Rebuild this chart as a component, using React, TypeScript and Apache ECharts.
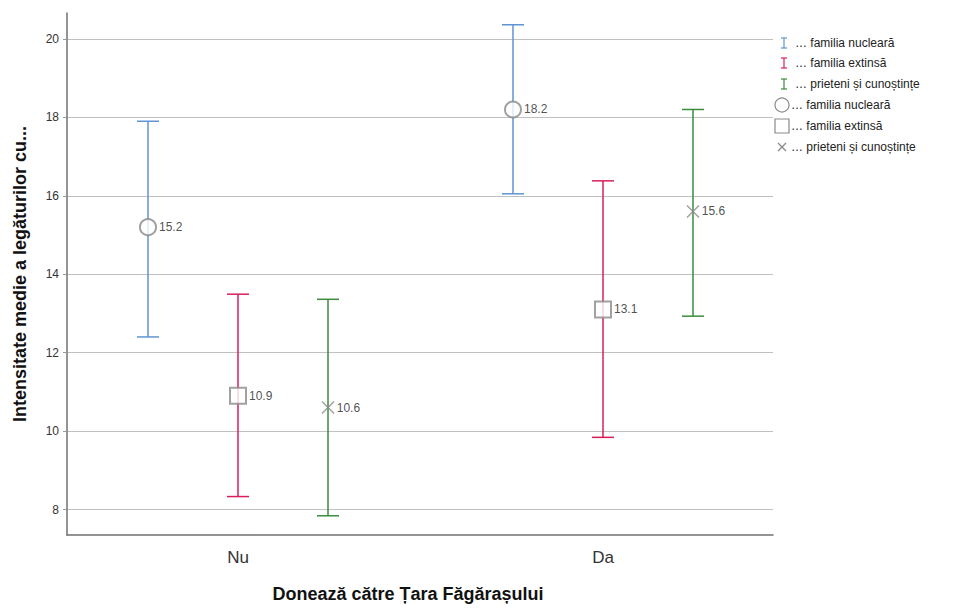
import React, { useEffect, useRef } from "react";
import * as echarts from "echarts";

const categories = ["Nu", "Da"];
const groupNames = ["… familia nucleară", "… familia extinsă", "… prieteni și cunoștințe"];
const groupColors = ["#5f95d3", "#d81f5a", "#3c8c3c"];

// means per group, per category [Nu, Da]
const meanNucleara = [15.2, 18.2];
const meanExtinsa = [10.9, 13.1];
const meanPrieteni = [10.6, 15.6];

// confidence interval lower / upper bounds per category [Nu, Da]
const lowNucleara = [12.4, 16.05];
const highNucleara = [17.9, 20.36];
const lowExtinsa = [8.33, 9.84];
const highExtinsa = [13.49, 16.38];
const lowPrieteni = [7.84, 12.93];
const highPrieteni = [13.36, 18.2];

const yTicks = [8, 10, 12, 14, 16, 18, 20];

const FONT = "'Liberation Sans', Arial, sans-serif";
const GROUP_OFFSET = 0.2466;
const offsets = [-GROUP_OFFSET, 0, GROUP_OFFSET];

const means = [meanNucleara, meanExtinsa, meanPrieteni];
const lows = [lowNucleara, lowExtinsa, lowPrieteni];
const highs = [highNucleara, highExtinsa, highPrieteni];
const markerSymbols = ["emptyCircle", "emptyRect", "path://M0,0L10,10M10,0L0,10"];
const markerSizes = [16, 16, 12];

export default function App() {
  const ref = useRef<HTMLDivElement>(null);

  useEffect(() => {
    document.body.style.margin = "0";
    if (!ref.current) return;
    const chart = echarts.init(ref.current, null, { renderer: "svg" });

    const errorSeries = groupNames.map((name, g) => ({
      type: "custom",
      name: "ci" + g,
      z: 2,
      data: categories.map((_, i) => [i + offsets[g], lows[g][i], highs[g][i]]),
      renderItem: (params: any, api: any) => {
        const x = api.value(0);
        const lo = api.coord([x, api.value(1)]);
        const hi = api.coord([x, api.value(2)]);
        const half = 11;
        const style = { stroke: groupColors[g], lineWidth: 1.5 };
        return {
          type: "group",
          children: [
            { type: "line", shape: { x1: hi[0], y1: hi[1], x2: lo[0], y2: lo[1] }, style },
            { type: "line", shape: { x1: hi[0] - half, y1: hi[1], x2: hi[0] + half, y2: hi[1] }, style },
            { type: "line", shape: { x1: lo[0] - half, y1: lo[1], x2: lo[0] + half, y2: lo[1] }, style },
          ],
        };
      },
    }));

    const meanSeries = groupNames.map((name, g) => ({
      type: "scatter",
      name: "mean" + g,
      z: 5,
      symbol: markerSymbols[g],
      symbolSize: markerSizes[g],
      itemStyle:
        g === 2
          ? { color: "transparent", borderColor: "#8a8a8a", borderWidth: 1.5 }
          : { color: "#8a8a8a", borderColor: "#8a8a8a", borderWidth: 1.1 },
      label: {
        show: true,
        position: "right",
        distance: 2,
        fontFamily: FONT,
        fontSize: 12,
        color: "#222",
        formatter: (p: any) => Number(p.value[1]).toFixed(1),
      },
      data: categories.map((_, i) => [i + offsets[g], means[g][i]]),
    }));

    // legend drawn as graphic
    const lx = 784;
    const rowYs = [43, 63, 84, 105, 126, 147];
    const legendChildren: any[] = [];
    groupNames.forEach((name, g) => {
      const y = rowYs[g];
      const st = { stroke: groupColors[g], lineWidth: 1.2 };
      legendChildren.push(
        { type: "line", shape: { x1: lx, y1: y - 5, x2: lx, y2: y + 5 }, style: st },
        { type: "line", shape: { x1: lx - 3, y1: y - 5, x2: lx + 3, y2: y - 5 }, style: st },
        { type: "line", shape: { x1: lx - 3, y1: y + 5, x2: lx + 3, y2: y + 5 }, style: st },
        {
          type: "text",
          x: 795,
          y,
          style: { text: name, fontFamily: FONT, fontSize: 12, fill: "#222", textVerticalAlign: "middle" },
        }
      );
    });
    groupNames.forEach((name, g) => {
      const y = rowYs[3 + g];
      const st = { stroke: "#8a8a8a", fill: "none", lineWidth: 1.2 };
      if (g === 0) legendChildren.push({ type: "circle", shape: { cx: 782, cy: y, r: 7 }, style: st });
      if (g === 1) legendChildren.push({ type: "rect", shape: { x: 775, y: y - 7, width: 14, height: 14 }, style: st });
      if (g === 2)
        legendChildren.push(
          { type: "line", shape: { x1: 778, y1: y - 4, x2: 786, y2: y + 4 }, style: st },
          { type: "line", shape: { x1: 778, y1: y + 4, x2: 786, y2: y - 4 }, style: st }
        );
      legendChildren.push({
        type: "text",
        x: 791,
        y,
        style: { text: name, fontFamily: FONT, fontSize: 12, fill: "#222", textVerticalAlign: "middle" },
      });
    });

    chart.setOption({
      animation: false,
      backgroundColor: "#fff",
      grid: { left: 67, right: 192, top: 13, bottom: 70, containLabel: false },
      xAxis: {
        type: "value",
        min: -0.4685,
        max: 1.4658,
        name: "Donează către Țara Făgărașului",
        nameLocation: "middle",
        nameGap: 50,
        nameTextStyle: {
          fontFamily: FONT,
          fontSize: 18,
          fontWeight: "bold",
          color: "#111",
          padding: [0, 24, 0, 0],
        },
        axisLine: { show: true, onZero: false, lineStyle: { color: "#707070", width: 1.5 } },
        axisTick: { show: false },
        splitLine: { show: false },
        axisLabel: {
          customValues: [0, 1],
          formatter: (v: number) => categories[Math.round(v)] ?? "",
          fontFamily: FONT,
          fontSize: 17,
          color: "#333",
          margin: 14,
        },
      },
      yAxis: {
        type: "value",
        min: 7.35,
        max: 20.66,
        name: "Intensitate medie a legăturilor cu...",
        nameLocation: "middle",
        nameGap: 38,
        nameTextStyle: { fontFamily: FONT, fontSize: 18, fontWeight: "bold", color: "#111" },
        axisLine: { show: true, onZero: false, lineStyle: { color: "#707070", width: 1.5 } },
        axisTick: { show: true, length: 4, customValues: yTicks, lineStyle: { color: "#999" } },
        splitLine: { show: true, lineStyle: { color: "#c0c0c0", width: 1 } },
        axisLabel: {
          customValues: yTicks,
          fontFamily: FONT,
          fontSize: 12,
          color: "#333",
          margin: 8,
        },
      },
      graphic: legendChildren,
      series: [...errorSeries, ...meanSeries],
    });

    return () => chart.dispose();
  }, []);

  return <div ref={ref} style={{ width: 965, height: 608 }} />;
}
